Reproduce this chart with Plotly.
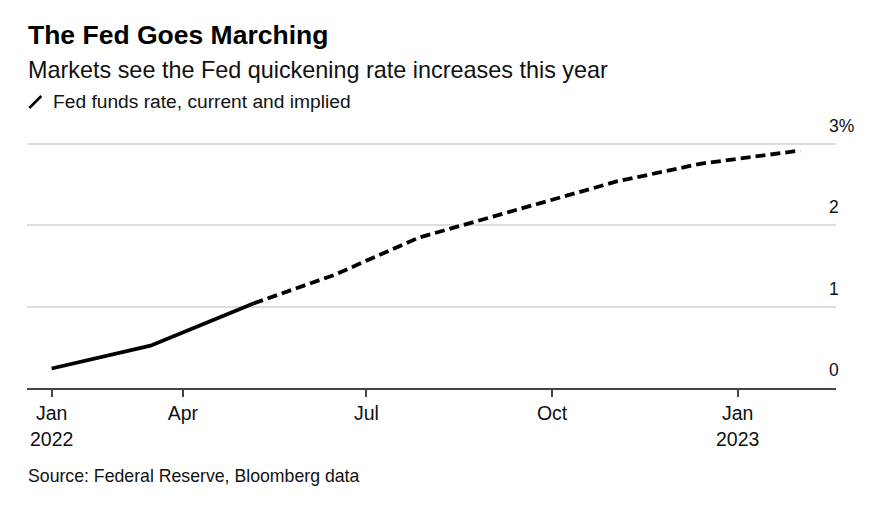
import plotly.graph_objects as go

# Data
dates = ["2022-01-26", "2022-03-16", "2022-05-06", "2022-06-15", "2022-07-27",
         "2022-09-21", "2022-11-02", "2022-12-14", "2023-02-01"]
rates = [0.24, 0.52, 1.04, 1.39, 1.85, 2.24, 2.54, 2.76, 2.92]
n_current = 3  # first three points are "current" (solid), rest implied (dashed)

tick_vals = ["2022-01-26", "2022-04-01", "2022-07-01", "2022-10-01", "2023-01-01"]
tick_text = ["Jan<br>2022", "Apr", "Jul", "Oct", "Jan<br>2023"]
y_ticks = [0, 1, 2, 3]
y_labels = ["0", "1", "2", "3%"]

FONT = "Liberation Sans, Arial, Helvetica, sans-serif"

fig = go.Figure()
fig.add_trace(go.Scatter(x=dates[:n_current], y=rates[:n_current], mode="lines",
                         line=dict(color="black", width=3.8), hoverinfo="skip",
                         showlegend=False))
fig.add_trace(go.Scatter(x=dates[n_current - 1:], y=rates[n_current - 1:], mode="lines",
                         line=dict(color="black", width=3.8, dash="10px,5px"),
                         hoverinfo="skip", showlegend=False))

Y_TOP = 3.05
PB = 388
UNIT = 81.33
PT = round(PB - Y_TOP * UNIT)
H = PB - PT


def py(ypx):
    return (PB - ypx) / H


annotations = []
for v, lab in zip(y_ticks, y_labels):
    annotations.append(dict(x=0.989, xref="paper", y=v, yref="y", text=lab,
                            xanchor="left", yanchor="bottom", showarrow=False,
                            yshift=6, font=dict(size=17.5, color="#111", family=FONT)))

annotations += [
    dict(x=0, xref="paper", y=py(35), yref="paper", text="<b>The Fed Goes Marching</b>",
         xanchor="left", yanchor="middle", showarrow=False, xshift=-1,
         font=dict(size=26.5, color="#000", family=FONT)),
    dict(x=0, xref="paper", y=py(70), yref="paper",
         text="Markets see the Fed quickening rate increases this year",
         xanchor="left", yanchor="middle", showarrow=False, xshift=-1,
         font=dict(size=23.4, color="#111", family=FONT)),
    dict(x=0, xref="paper", y=py(102), yref="paper",
         text="Fed funds rate, current and implied",
         xanchor="left", yanchor="middle", showarrow=False, xshift=24,
         font=dict(size=19.2, color="#111", family=FONT)),
    dict(x=0, xref="paper", y=py(476), yref="paper",
         text="Source: Federal Reserve, Bloomberg data",
         xanchor="left", yanchor="middle", showarrow=False, xshift=-1,
         font=dict(size=17.7, color="#111", family=FONT)),
]

shapes = [dict(type="line", xref="paper", yref="paper",
               x0=(29 - 26.7) / 809, x1=(41 - 26.7) / 809, y0=py(108), y1=py(96),
               line=dict(color="black", width=2.5))]

fig.update_layout(
    width=888, height=512,
    margin=dict(l=27, r=52, t=PT, b=512 - PB),
    paper_bgcolor="white", plot_bgcolor="white",
    showlegend=False,
    font=dict(family=FONT, color="#111"),
    annotations=annotations,
    shapes=shapes,
    xaxis=dict(type="date", range=["2022-01-13 19:00", "2023-02-18 17:00"],
               tickvals=tick_vals, ticktext=tick_text, ticks="outside", ticklen=7,
               tickwidth=1.5, tickcolor="#444", showgrid=False, showline=True,
               linecolor="#444", linewidth=1.5, zeroline=False,
               tickfont=dict(size=19.5, color="#111", family=FONT), fixedrange=True),
    yaxis=dict(range=[0, Y_TOP], tickvals=y_ticks, showticklabels=False, showgrid=True,
               gridcolor="#dddddd", gridwidth=1.5, zeroline=False, showline=False,
               fixedrange=True),
)

fig.write_html("out.html")
